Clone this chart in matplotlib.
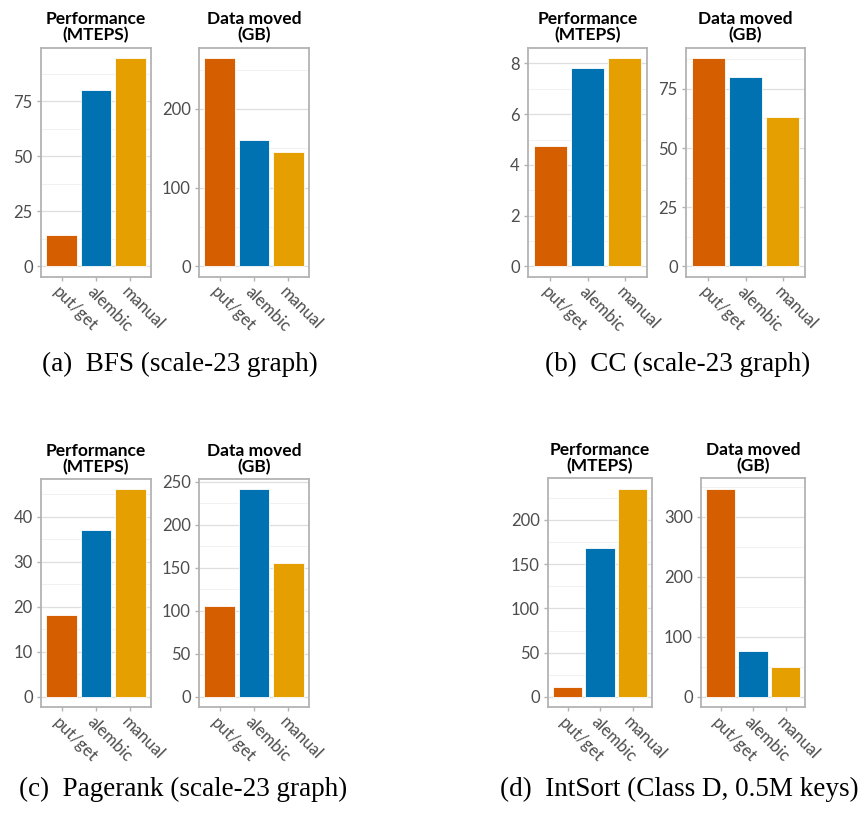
import matplotlib
matplotlib.use('Agg')
import matplotlib.pyplot as plt
from matplotlib.ticker import MultipleLocator, AutoMinorLocator

# values
methods = ['put/get', 'alembic', 'manual']
colors = ['#D55E00', '#0072B2', '#E69F00']

bfs_perf = [14.3, 80.0, 94.7]
bfs_data = [264.5, 160.0, 145.0]
cc_perf = [4.73, 7.82, 8.21]
cc_data = [88.0, 80.0, 63.2]
pr_perf = [18.2, 37.1, 46.1]
pr_data = [105.8, 241.2, 155.7]
sort_perf = [10.9, 168.5, 235.2]
sort_data = [346.4, 76.7, 49.1]

captions = ['(a)  BFS (scale-23 graph)', '(b)  CC (scale-23 graph)',
            '(c)  Pagerank (scale-23 graph)', '(d)  IntSort (Class D, 0.5M keys)']

W, H = 864, 815
fig = plt.figure(figsize=(W / 100, H / 100), dpi=100)
fig.patch.set_facecolor('white')


def add_panel(x0, x1, y0, y1, vals, step, title):
    # pixel box -> figure fraction
    ax = fig.add_axes([x0 / W, 1 - y1 / H, (x1 - x0) / W, (y1 - y0) / H])
    xs = range(len(vals))
    ax.bar(xs, vals, width=0.9, color=colors, edgecolor='white', linewidth=0.6, zorder=3)
    top = max(vals)
    ax.set_ylim(-0.05 * top, top * 1.05)
    ax.set_xlim(-0.6, 2.6)
    ax.yaxis.set_major_locator(MultipleLocator(step))
    ax.yaxis.set_minor_locator(AutoMinorLocator(2))
    ax.grid(axis='y', which='major', color='#DEDEDE', linewidth=0.9, zorder=0)
    ax.grid(axis='y', which='minor', color='#EFEFEF', linewidth=0.6, zorder=0)
    for s in ax.spines.values():
        s.set_color('#B3B3B3')
        s.set_linewidth(1.3)
    ax.set_xticks(list(xs))
    ax.set_xticklabels(methods, rotation=-45, ha='left', va='top',
                       rotation_mode='anchor', fontsize=12, color='#4D4D4D',
                       family='Lato')
    ax.tick_params(axis='both', which='major', length=3, color='#B3B3B3',
                   width=1.0, labelsize=12, labelcolor='#4D4D4D', pad=3)
    ax.tick_params(axis='x', pad=2)
    ax.tick_params(axis='y', which='minor', length=0)
    for lab in ax.get_yticklabels():
        lab.set_family('Lato')
    ax.set_title(title, fontsize=12.5, fontweight='bold', family='Lato',
                 linespacing=1.0, pad=5)
    return ax


perf_title = 'Performance\n(MTEPS)'
data_title = 'Data moved\n(GB)'

# (a)
add_panel(41, 151, 47.7, 276.7, bfs_perf, 25, perf_title)
add_panel(199, 309, 47.7, 276.7, bfs_data, 100, data_title)
# (b)
add_panel(528, 647, 47.7, 276.7, cc_perf, 2, perf_title)
add_panel(686, 805, 47.7, 276.7, cc_data, 25, data_title)
# (c)
add_panel(41, 151, 479, 707.3, pr_perf, 10, perf_title)
add_panel(199, 309, 479, 707.3, pr_data, 50, data_title)
# (d)
add_panel(548, 652, 478.3, 707.3, sort_perf, 50, perf_title)
add_panel(701, 805, 478.3, 707.3, sort_data, 100, data_title)

cap_pos = [(180, 364), (678, 364), (183, 789), (679, 789)]
for (cx, cy), txt in zip(cap_pos, captions):
    fig.text(cx / W, 1 - cy / H, txt, ha='center', va='center',
             fontsize=19.5, family='Liberation Serif')

fig.savefig('out.png', dpi=100, facecolor='white')
